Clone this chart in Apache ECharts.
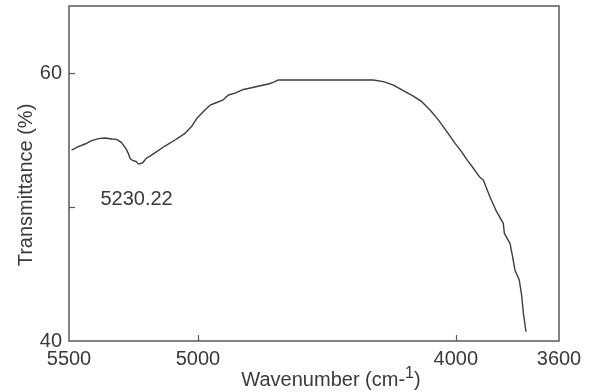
<!DOCTYPE html>
<html>
<head>
<meta charset="utf-8">
<script src="https://cdn.jsdelivr.net/npm/echarts@6/dist/echarts.min.js"></script>
<style>
  html, body { margin: 0; padding: 0; background: #fff; }
  #chart { width: 592px; height: 392px; }
</style>
</head>
<body>
<div id="chart"></div>
<script>
// NIR transmittance spectrum (wavenumber in cm-1, transmittance in %)
const wavenumbers = [
  5490, 5464, 5438, 5412, 5386, 5360, 5334, 5315, 5296, 5280, 5270, 5263,
  5251, 5240, 5230.22, 5214, 5207, 5200, 5186, 5160, 5128, 5089, 5050, 5025,
  5005, 4973, 4953, 4927, 4902, 4882, 4856, 4824, 4792, 4759, 4727, 4708,
  4688, 4600, 4500, 4400, 4320, 4281, 4242, 4204, 4165, 4132, 4100, 4068,
  4035, 4003, 3978, 3958, 3932, 3909, 3893, 3868, 3842, 3816, 3812, 3790,
  3780, 3771, 3754, 3745, 3738, 3728
];
const transmittance = [
  54.25, 54.50, 54.70, 54.95, 55.10, 55.15, 55.07, 55.05, 54.80, 54.37, 54.00, 53.60,
  53.45, 53.40, 53.20, 53.30, 53.35, 53.65, 53.80, 54.13, 54.55, 55.00, 55.50, 56.00,
  56.60, 57.24, 57.60, 57.80, 58.00, 58.36, 58.50, 58.77, 58.90, 59.05, 59.18, 59.30,
  59.48, 59.48, 59.48, 59.48, 59.48, 59.36, 59.10, 58.68, 58.28, 57.86, 57.24, 56.50,
  55.62, 54.75, 54.13, 53.56, 52.89, 52.26, 52.00, 50.77, 49.65, 48.78, 48.03, 47.29,
  46.29, 45.30, 44.55, 43.43, 42.06, 40.69
];

// Marked absorption band
const peakWavenumber = 5230.22;
const peakTransmittance = 53.20;

// Axis tick / label positions
const xLabelValues = [5500, 5000, 4000, 3600];
const xTickValues = [5000, 4000];
const yLabelValues = [40, 60];
const yTickValues = [50, 60];

const textColor = '#3a3a3a';
const fontFamily = '"Liberation Sans", Arial, sans-serif';

const chart = echarts.init(document.getElementById('chart'), null, { renderer: 'canvas' });

chart.setOption({
  animation: false,
  backgroundColor: '#ffffff',
  grid: {
    left: 69, right: 33, top: 6, bottom: 51,
    show: true,
    borderColor: '#5a5a5a',
    borderWidth: 1.5,
    backgroundColor: 'transparent'
  },
  xAxis: {
    type: 'value',
    inverse: true,
    min: 3600,
    max: 5500,
    interval: 100,
    splitLine: { show: false },
    axisLine: { show: false },
    axisTick: {
      show: true, inside: true, length: 6,
      customValues: xTickValues,
      lineStyle: { color: '#5a5a5a', width: 1.2 }
    },
    axisLabel: {
      customValues: xLabelValues,
      formatter: (v) => String(v),
      margin: 8,
      color: textColor,
      fontSize: 20,
      fontFamily: fontFamily
    }
  },
  yAxis: {
    type: 'value',
    min: 40,
    max: 65,
    interval: 5,
    splitLine: { show: false },
    axisLine: { show: false },
    axisTick: {
      show: true, inside: true, length: 6,
      customValues: yTickValues,
      lineStyle: { color: '#5a5a5a', width: 1.2 }
    },
    axisLabel: {
      customValues: yLabelValues,
      formatter: (v) => String(v),
      margin: 7,
      color: textColor,
      fontSize: 20,
      fontFamily: fontFamily
    }
  },
  graphic: [
    {
      type: 'text',
      x: 26, y: 185,
      rotation: Math.PI / 2,
      style: {
        text: 'Transmittance (%)',
        fill: textColor,
        font: '20px ' + fontFamily,
        align: 'center',
        verticalAlign: 'middle'
      }
    },
    {
      type: 'text',
      x: 331, y: 378,
      style: {
        text: '{a|Wavenumber (cm-}{s|1}{a|)}',
        align: 'center',
        verticalAlign: 'middle',
        rich: {
          a: { fontSize: 20, fontFamily: fontFamily, fill: textColor, verticalAlign: 'bottom' },
          s: { fontSize: 16, fontFamily: fontFamily, fill: textColor, verticalAlign: 'bottom', padding: [0, 0, 8, 0] }
        }
      }
    }
  ],
  series: [
    {
      type: 'line',
      data: wavenumbers.map((w, i) => [w, transmittance[i]]),
      showSymbol: false,
      symbol: 'none',
      smooth: false,
      lineStyle: { color: '#3c3c3c', width: 1.4 },
      markPoint: {
        symbol: 'circle',
        symbolSize: 0,
        data: [{ coord: [peakWavenumber, peakTransmittance], value: peakWavenumber }],
        label: {
          show: true,
          formatter: () => peakWavenumber.toFixed(2),
          offset: [-2, 35],
          color: textColor,
          fontSize: 20,
          fontFamily: fontFamily
        }
      }
    }
  ]
});
</script>
</body>
</html>
